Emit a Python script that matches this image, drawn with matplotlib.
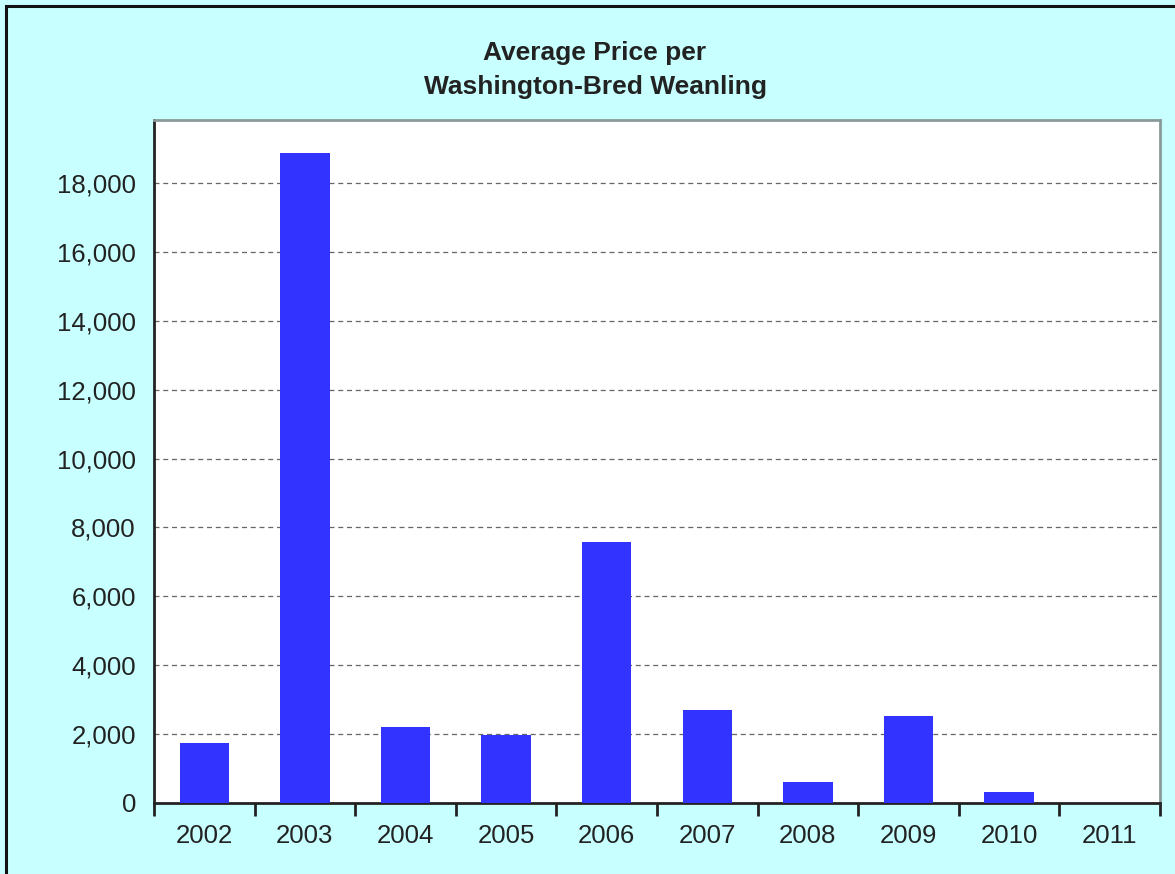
import matplotlib
matplotlib.use("Agg")
import matplotlib.pyplot as plt
from matplotlib.patches import Rectangle
from matplotlib.ticker import FuncFormatter, FixedLocator

years = ["2002", "2003", "2004", "2005", "2006", "2007", "2008", "2009", "2010", "2011"]
prices = [1740, 18870, 2210, 1980, 7590, 2700, 600, 2530, 310, 0]
yticks = [0, 2000, 4000, 6000, 8000, 10000, 12000, 14000, 16000, 18000]

plt.rcParams["font.family"] = ["Liberation Sans", "DejaVu Sans"]

fig = plt.figure(figsize=(11.75, 8.74), dpi=100, facecolor="#c8ffff")
W, H = 1175, 874

# black frame on left/top (image is cut on right/bottom)
fig.patches.append(Rectangle((6 / W, -0.1), 1.2, (874 - 6) / H + 0.1,
                             transform=fig.transFigure, fill=False,
                             edgecolor="#111111", linewidth=2.2))

ax = fig.add_axes([154 / W, (874 - 803) / H, (1160 - 154) / W, (803 - 120) / H])
ax.set_facecolor("white")

x = list(range(len(years)))
ax.bar(x, prices, width=0.49, color="#3333ff", zorder=3)

ax.set_xlim(-0.5, len(years) - 0.5)
ax.set_ylim(0, 19830)
ax.set_xticks(x)
ax.set_xticklabels(years)
ax.xaxis.set_minor_locator(FixedLocator([i - 0.5 for i in range(len(years) + 1)]))
ax.tick_params(axis="x", which="major", length=0, pad=15, labelsize=18.5, labelcolor="#222222")
ax.tick_params(axis="x", which="minor", length=9, width=2, color="#222222", direction="out")
ax.set_yticks(yticks)
ax.yaxis.set_major_formatter(FuncFormatter(lambda v, p: f"{int(v):,}"))
ax.tick_params(axis="y", length=0, pad=13, labelsize=18.5, labelcolor="#222222")

for v in yticks[1:]:
    ax.axhline(v, color="#666666", linestyle=(0, (4, 3)), linewidth=0.9, zorder=1)

ax.spines["left"].set_color("#222222")
ax.spines["left"].set_linewidth(2)
ax.spines["bottom"].set_color("#222222")
ax.spines["bottom"].set_linewidth(2)
ax.spines["top"].set_color("#8a9a9a")
ax.spines["top"].set_linewidth(2)
ax.spines["right"].set_color("#8a9a9a")
ax.spines["right"].set_linewidth(2)

fig.text(595 / W, (874 - 70) / H, "Average Price per\nWashington-Bred Weanling",
         ha="center", va="center", multialignment="center",
         fontsize=19, fontweight="bold", color="#222222", linespacing=1.5)

fig.savefig("out.png", dpi=100, facecolor=fig.get_facecolor())
